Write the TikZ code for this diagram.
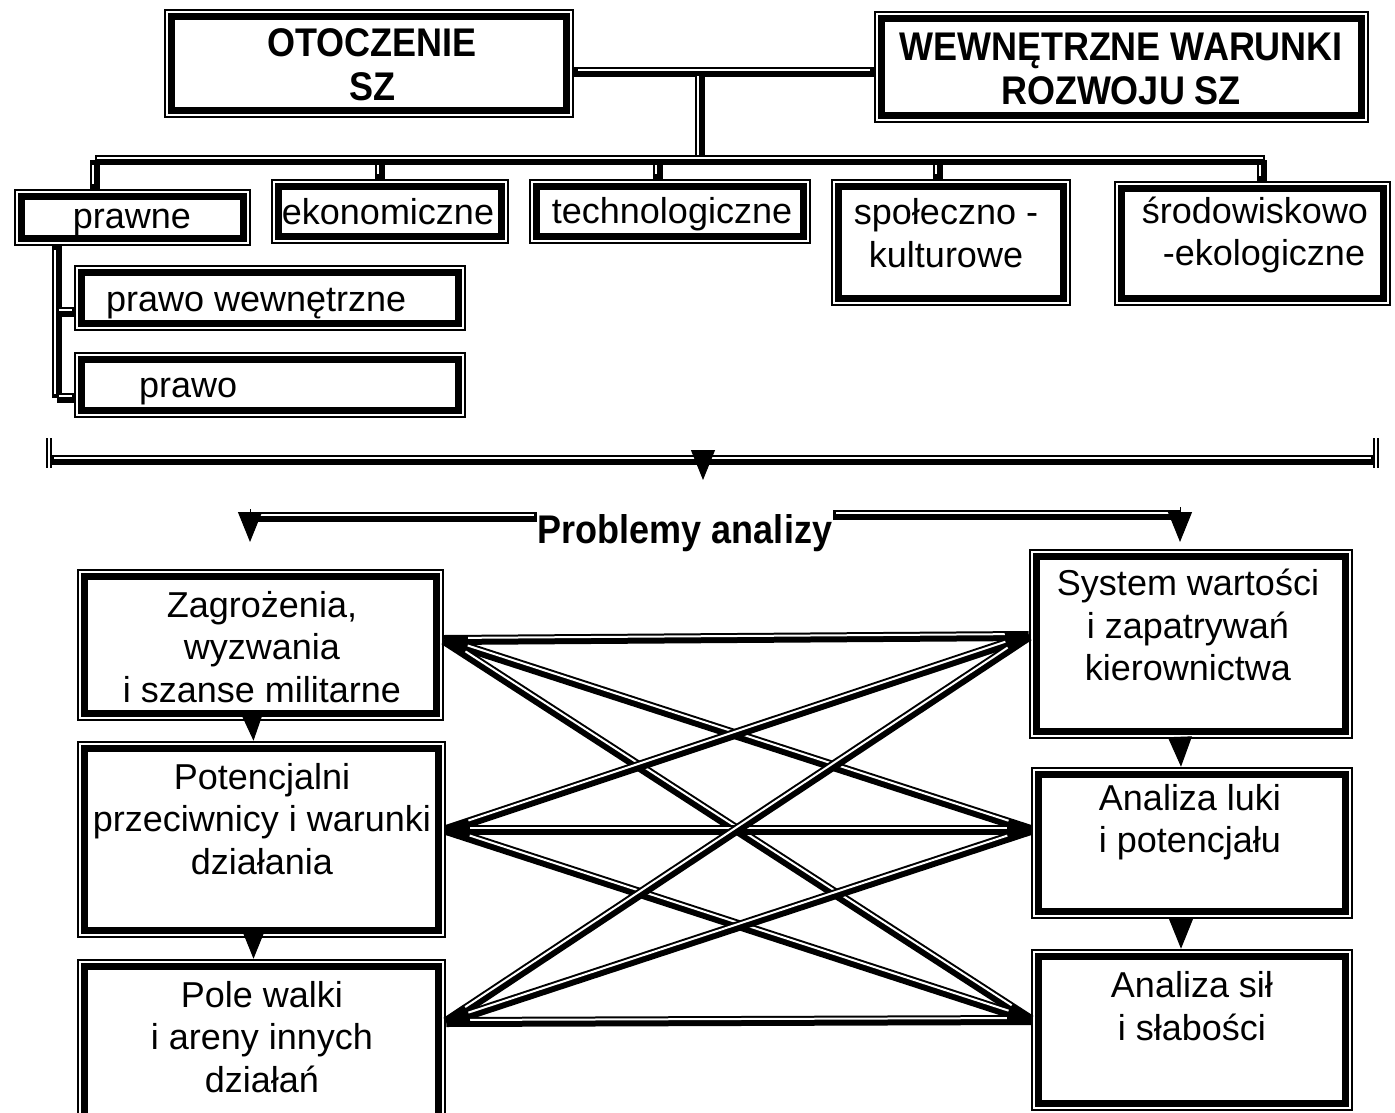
\documentclass[tikz,border=0pt]{standalone}
\usepackage{fontspec}
\setmainfont{Liberation Sans}
\newfontfamily\hb[FakeStretch=0.9]{Liberation Sans}
\usetikzlibrary{calc,arrows.meta}
% double connector: thick black with thin parallel line separated by white gap
\newcommand\dconn[3][12pt]{%
  \draw[line width=10pt] (#2) -- (#3);
  \draw[white, line width=2pt, shorten <=#1, shorten >=#1] ($(#2)!2pt!90:(#3)$) -- ($(#3)!2pt!-90:(#2)$);}
% box with thin outer and thick inner border
\newcommand\bx[5]{%
  \node[outerbox, minimum width={#4-#2}, minimum height={#5-#3}] (#1) at ({(#2+#4)/2},{(#3+#5)/2}) {};
  \draw[line width=7pt] ([shift={(7.5,7.5)}]#1.north west) rectangle ([shift={(-7.5,-7.5)}]#1.south east);}
\begin{document}
\begin{tikzpicture}[x=1pt,y=-1pt,
  outerbox/.style={draw, line width=2.5pt, inner sep=0pt},
  txt/.style={align=center, inner sep=1pt, font=\fontsize{36}{42.5}\selectfont},
  btxt/.style={align=center, inner sep=1pt, font=\hb\bfseries\fontsize{40}{44}\selectfont},
  tri/.style={-{Triangle[width=24pt,length=30pt]}, line width=1pt}]
\clip (0,0) rectangle (1395,1113);
\fill[white] (0,0) rectangle (1395,1113);

% ---------- boxes ----------
\bx{ot}{165}{10}{573}{117}
\bx{we}{875}{12}{1368}{122}
\bx{pr}{15}{190}{250}{245}
\bx{ek}{272}{180}{508}{243}
\bx{te}{530}{180}{810}{243}
\bx{sp}{832}{180}{1070}{305}
\bx{sr}{1115}{182}{1390}{305}
\bx{pw}{75}{266}{465}{330}
\bx{po}{75}{353}{465}{417}
\bx{za}{78}{570}{443}{720}
\bx{pt}{78}{742}{445}{937}
\bx{pl}{78}{960}{445}{1130}
\bx{sy}{1030}{550}{1352}{738}
\bx{lu}{1032}{768}{1352}{918}
\bx{si}{1032}{950}{1352}{1110}

% ---------- texts ----------
\node[btxt] (otT) at (372,65) {OTOCZENIE\\SZ};
\node[btxt] (weT) at (1121,69) {WEWNĘTRZNE WARUNKI\\ROZWOJU SZ};
\node[txt] (prT) at (132,223) {prawne};
\node[txt] (ekT) at (388,212) {ekonomiczne};
\node[txt] (teT) at (672,214) {technologiczne};
\node[txt] (spT) at (946,233) {społeczno -\\kulturowe};
\node[txt] (srT) at (1255,235) {środowiskowo\\\hspace*{18pt}-ekologiczne};
\node[txt, anchor=west] (pwT) at (105,304) {prawo wewnętrzne};
\node[txt, anchor=west] (poT) at (138,392) {prawo};
\node[btxt] (pa) at (685,533) {Problemy analizy};
\node[txt] (zaT) at (262,647) {Zagrożenia,\\wyzwania\\i szanse militarne};
\node[txt] (ptT) at (262,819) {Potencjalni\\przeciwnicy i warunki\\działania};
\node[txt] (plT) at (262,1037) {Pole walki\\i areny innych\\działań};
\node[txt] (syT) at (1188,625) {System wartości\\i zapatrywań\\kierownictwa};
\node[txt] (luT) at (1190,822) {Analiza luki\\i potencjału};
\node[txt] (siT) at (1192,1006) {Analiza sił\\i słabości};

% ---------- top tree ----------
\coordinate (tj) at (700,72);
\coordinate (otr) at (ot.east |- tj);
\coordinate (wel) at (we.west |- tj);
\coordinate (bus) at (700,160);
\coordinate (busL) at (95,160);
\coordinate (busR) at (1265,160);
\dconn[4pt]{otr}{wel}
\dconn[4pt]{bus}{tj}
\dconn[2pt]{busL}{busR}
\coordinate (d1b) at (busL |- pr.north);
\coordinate (d2t) at (380,160); \coordinate (d2b) at (d2t |- ek.north);
\coordinate (d3t) at (658,160); \coordinate (d3b) at (d3t |- te.north);
\coordinate (d4t) at (938,160); \coordinate (d4b) at (d4t |- sp.north);
\coordinate (d5t) at (1262,160); \coordinate (d5b) at (d5t |- sr.north);
\dconn[5pt]{d1b}{busL}
\dconn[5pt]{d2b}{d2t}
\dconn[5pt]{d3b}{d3t}
\dconn[5pt]{d4b}{d4t}
\dconn[5pt]{d5b}{d5t}

% ---------- prawne sub-branch ----------
\coordinate (pv1) at (pr.south -| 57,0);
\coordinate (pv2) at (57,398);
\coordinate (pos) at (po.west |- pv2);
\coordinate (pv3) at (57,312);
\coordinate (pws) at (pw.west |- pv3);
\dconn[4pt]{pv2}{pv1}
\dconn[2pt]{pv3}{pws}
\dconn[2pt]{pv2}{pos}

% ---------- bracket ----------
\coordinate (bl) at (50,460);
\coordinate (br) at (1375,460);
\dconn[4pt]{bl}{br}
\draw[line width=2.5pt] ([xshift=-3pt,yshift=22pt]bl) -- ([xshift=-3pt,yshift=-8pt]bl);
\draw[line width=2.5pt] ([xshift=1pt,yshift=22pt]bl) -- ([xshift=1pt,yshift=-8pt]bl);
\draw[line width=2.5pt] ([xshift=-1pt,yshift=22pt]br) -- ([xshift=-1pt,yshift=-8pt]br);
\draw[line width=2.5pt] ([xshift=3pt,yshift=22pt]br) -- ([xshift=3pt,yshift=-8pt]br);
\coordinate (bm) at (703,452);
\coordinate (bt) at (703,480);
\draw[tri] (bm) -- (bt);

% ---------- Problemy analizy arrows ----------
\coordinate (pal) at ([yshift=16pt]pa.west);
\coordinate (par) at ([yshift=18pt]pa.east);
\coordinate (pl1) at (250,517);
\coordinate (pl2) at (250,542);
\coordinate (pr1) at (1180,515);
\coordinate (pr2) at (1180,542);
\dconn[3pt]{pl1}{pal}
\dconn[3pt]{par}{pr1}
\draw[tri] ([yshift=8pt]pl1) -- (pl2);
\draw[tri] ([yshift=8pt]pr1) -- (pr2);

% ---------- column arrows ----------
\draw[tri] ([xshift=-8pt]za.south) -- ([xshift=-8pt]pt.north);
\draw[tri] ([xshift=-8pt]pt.south) -- ([xshift=-8pt]pl.north);
\draw[tri] ([xshift=-11pt]sy.south) -- ([xshift=-11pt]lu.north);
\draw[tri] ([xshift=-11pt]lu.south) -- ([xshift=-11pt]si.north);

% ---------- cross connections ----------
\coordinate (L1) at (za.east |- 0,640);
\coordinate (L2) at (pt.east |- 0,830);
\coordinate (L3) at (pl.east |- 0,1022);
\coordinate (R1) at (sy.west |- 0,636);
\coordinate (R2) at (lu.west |- 0,830);
\coordinate (R3) at (si.west |- 0,1020);
\foreach \a in {L1,L2,L3}{\foreach \b in {R1,R2,R3}{\dconn[24pt]{\a}{\b}}}
\end{tikzpicture}
\end{document}
